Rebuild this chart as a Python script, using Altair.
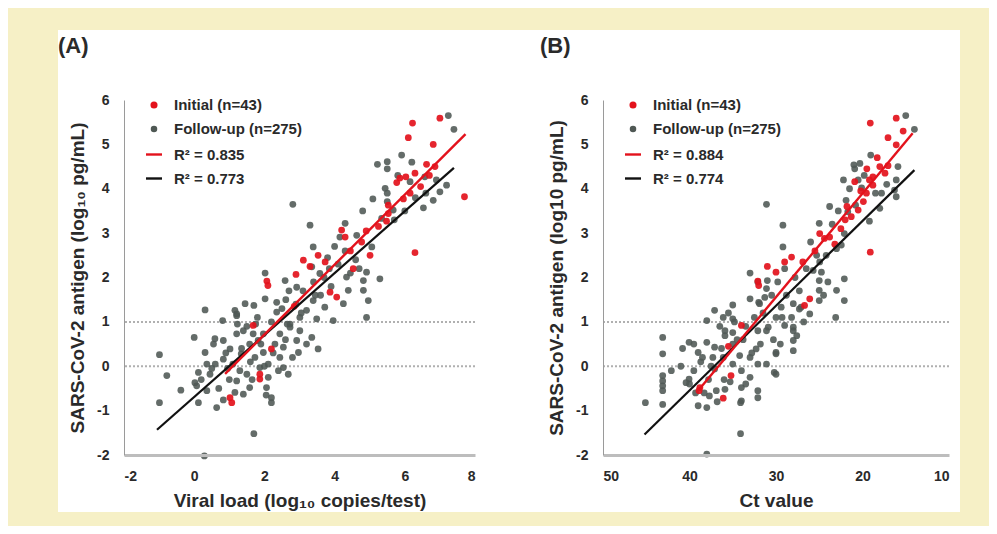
import altair as alt
import pandas as pd

# ---------------- Panel A: viral load vs antigen ----------------
a_init_x = [6.22, 7.00, 6.10, 6.81, 6.62, 6.86, 6.29, 5.86, 6.03, 5.77, 7.70, 5.96, 6.15, 5.53,
            5.48, 4.20, 4.30, 4.77, 6.29, 3.53, 3.11, 3.73, 5.01, 4.53, 2.90, 2.07, 2.10, 1.68,
            3.87, 4.06, 1.02, 1.07, 1.87, 1.87, 2.20, 5.53, 4.90, 5.25, 6.45, 6.70, 3.30, 4.45, 2.85]
a_init_y = [5.48, 5.59, 5.15, 5.00, 4.55, 4.50, 4.35, 4.24, 4.27, 4.14, 3.82, 3.77, 3.90, 3.44,
            3.27, 3.07, 2.91, 2.80, 2.56, 2.50, 2.39, 2.35, 2.50, 2.20, 2.07, 1.92, 1.82, 0.92,
            1.67, 1.56, -0.71, -0.82, -0.18, -0.29, 0.39, 3.63, 3.05, 3.15, 4.05, 4.30, 2.25, 2.60, 1.35]

a_fu_x = [7.24, 7.40, 5.91, 5.22, 5.50, 5.50, 6.15, 6.57, 7.00, 7.19, 5.44, 5.09, 5.50, 6.81,
          6.53, 4.80, 5.67, 5.34, 3.30, 4.30, 4.63, 5.06, 3.39, 3.35, 4.91,
          2.81, 3.58, 4.34, 2.02, 2.59, 2.92, 2.02, 2.35, 2.61, 1.45, 1.70, 1.21, 0.31, 0.81,
          1.23, 1.40, 4.82, 4.39, 4.82, 4.25, 4.96, 3.39, 3.72, 3.20, 3.01, 3.49, 3.96, 4.91,
          2.73, 2.44, 3.01, 3.35, 1.97, 2.35,
          -0.99, -0.99, -0.78, -0.38, 0.00, 0.02, 0.07, 0.12, 0.36, 0.31, 0.55, 0.59, 0.45,
          0.36, 0.12, 0.64, 0.83, 1.16, 1.21, 1.50, 0.83, 1.02, 0.83, 1.21, 1.16, 1.21, 1.34,
          1.58, 1.82, 1.73, 1.97, 1.87, 2.11, 2.11, 2.06, 2.20, 2.20, 1.58, 1.40, 2.44, 2.54,
          2.68, 2.54, 2.97, 2.92, 3.53, 1.70, 0.29, 1.68, 2.73, 5.29, 4.15,
          0.90, 1.10, 1.30, 1.60, 1.90, 2.30, 2.60, 2.20, 2.50, 2.90, 3.10, 3.40, 3.70, 3.90,
          4.10, 4.30, 4.60, 4.70, 4.00, 3.80, 3.60, 2.70, 1.00, 0.70, 0.60, 0.20, 1.50, 1.80,
          2.00, 2.40, 2.80, 3.20, 5.50, 5.80, 6.00, 6.30, 6.60, 5.70, 6.20, 6.90,
          0.95, 1.35, 1.65, 2.25, 2.65, 3.05, 3.45, 3.85, 4.45, 0.50, 1.75, 2.05]
a_fu_y = [5.65, 5.34, 4.76, 4.55, 4.61, 4.45, 4.16, 4.27, 3.93, 4.08, 4.01, 3.77, 3.71, 3.74,
          3.57, 3.50, 3.52, 3.33, 3.18, 3.22, 2.95, 2.69, 2.69, 2.24, 2.12,
          3.65, 2.09, 2.01, 2.10, 1.93, 1.78, 1.52, 1.44, 1.50, 1.41, 1.37, 1.18, 1.27, 1.03,
          0.95, 0.80, 1.93, 1.71, 1.71, 1.41, 1.48, 1.48, 1.33, 1.26, 1.10, 1.07, 1.03, 1.10,
          0.95, 0.73, 0.80, 0.65, 0.73, 1.22,
          0.26, -0.82, -0.21, -0.54, 0.65, -0.37, -0.44, -0.14, 0.05, 0.31, 0.50, 0.62, -0.18,
          -0.55, -0.82, -0.93, -0.76, -0.59, -0.33, -0.18, 0.16, 0.39, 0.58, 0.73, 1.26, 1.14, 0.28,
          0.50, 0.58, 0.20, 0.31, -0.03, 0.05, -0.25, -0.48, -0.71, -0.82, -0.48, -0.63, 0.20, -0.03,
          -0.18, 0.43, 0.31, 0.58, 0.39, -1.52, -2.02, 0.73, 0.88, 1.97, 2.91,
          0.30, 0.05, -0.10, 0.10, 0.50, 0.50, 0.60, 1.00, 1.30, 1.40, 1.70, 1.90, 2.00, 1.80,
          2.30, 2.60, 2.40, 2.20, 2.70, 2.45, 1.60, 1.70, -0.30, -0.50, 0.05, -0.30, 0.90, 1.10,
          0.00, -0.10, 0.20, 0.50, 3.90, 4.30, 3.50, 3.80, 3.90, 3.30, 4.60, 4.20,
          -0.05, 0.40, -0.30, 0.30, 0.95, 1.20, 1.60, 2.20, 2.10, -0.05, 0.95, -0.65]

a_fit_red_x = [0.88, 7.73]
a_fit_red_y = [-0.17, 5.23]
a_fit_blk_x = [-1.06, 7.40]
a_fit_blk_y = [-1.43, 4.47]

# ---------------- Panel B: Ct value vs antigen ----------------
b_init_x = [19.1, 16.1, 17.05, 16.1, 18.0, 17.05, 17.4, 18.8, 19.2, 20.9, 18.8, 19.55, 19.9, 20.5,
            21.3, 24.95, 24.4, 23.8, 19.1, 28.2, 29.0, 26.9, 30.0, 32.1, 32.0, 34.0, 26.1, 26.7,
            38.8, 38.9, 36.1, 35.2, 22.0, 22.5, 21.8, 20.2, 23.2, 19.5, 18.3, 15.3, 25.5, 31.0, 35.5]
b_init_y = [5.48, 5.59, 5.15, 4.99, 4.50, 4.52, 4.35, 4.27, 4.20, 4.16, 4.08, 3.90, 3.71, 3.52,
            3.37, 2.99, 2.88, 2.91, 2.57, 2.46, 2.35, 2.35, 2.12, 1.92, 1.82, 0.92, 1.52, 1.37,
            -0.48, -0.55, -0.72, -0.21, 3.30, 3.10, 3.60, 3.95, 2.75, 4.45, 4.70, 5.30, 2.60, 2.25, 0.45]

b_fu_x = [15.0, 14.0, 19.05, 21.0, 20.3, 20.9, 15.9, 20.1, 16.1, 16.3, 16.1, 21.9, 20.8, 21.7,
          19.2, 18.0, 29.2, 25.0, 22.45, 22.1, 29.2, 29.0, 24.95, 25.7, 23.0,
          31.1, 33.0, 31.0, 31.1, 33.0, 35.0, 32.0, 37.1, 36.1, 35.0, 38.0, 35.9, 35.0, 32.1,
          30.9, 30.0, 29.4, 28.0, 27.3, 28.2, 29.0, 28.0, 27.6, 25.0, 24.0, 23.0, 22.1, 22.1,
          23.1, 25.0, 24.75, 25.3,
          43.1, 43.1, 45.1, 43.1, 43.1, 43.1, 43.1, 43.1, 42.1, 40.05, 39.0, 38.0, 40.05, 40.0,
          39.0, 38.0, 37.7, 36.9, 35.9, 37.1, 36.1, 37.1, 35.9, 35.0, 34.2, 34.0, 34.0, 34.0,
          33.0, 32.3, 33.0, 32.1, 32.1, 32.1, 31.1, 30.0, 30.2, 31.1, 31.9, 34.1, 38.0,
          40.4, 35.0, 34.1, 32.1, 30.0, 30.0, 28.0, 28.0, 28.0, 25.0, 26.1, 27.1,
          36.5, 37.5, 38.5, 39.5, 36.0, 35.5, 34.5, 33.5, 33.5, 32.5, 31.5, 30.5, 29.8, 28.8,
          27.8, 26.5, 26.0, 24.2, 23.5, 22.8, 21.5, 20.5, 19.8, 18.5, 17.8, 17.2, 24.5, 26.8,
          29.5, 31.8, 36.8, 37.8, 38.3, 39.5, 41.0, 40.8, 23.8, 22.2,
          37.3, 36.3, 35.3, 34.8, 33.8, 32.8, 31.3, 30.3, 29.3, 27.3, 39.3, 38.7]
b_fu_y = [5.65, 5.34, 4.76, 4.54, 4.57, 4.45, 4.50, 4.02, 4.20, 3.97, 3.82, 3.74, 3.63, 3.48,
          3.27, 3.56, 3.18, 3.22, 2.73, 2.99, 2.69, 2.20, 2.35, 2.16, 2.65,
          3.65, 2.10, 1.93, 1.75, 1.52, 1.38, 1.44, 1.26, 1.10, 1.07, 1.03, 0.80, 0.76, 0.80,
          0.88, 1.10, 1.33, 1.41, 1.29, 1.10, 0.92, 0.80, 0.69, 1.93, 1.90, 1.71, 1.97, 1.48,
          1.10, 1.71, 2.12, 2.50,
          0.65, 0.28, -0.82, -0.86, -0.21, -0.33, -0.44, -0.55, -0.10, 0.54, 0.31, 0.54, -0.29, -0.40,
          -0.89, -0.93, -0.67, -0.55, -0.52, -0.06, 0.20, 0.43, 0.69, 0.50, 0.24, -0.10, -0.48, -0.78,
          0.20, 0.39, -0.25, 0.05, -0.55, -0.71, 0.05, 0.31, -0.14, 0.80, 1.41, -1.52, -1.98,
          -0.37, 0.05, -0.82, 1.90, 0.28, -0.18, 0.88, 0.58, 0.35, 1.48, 1.18, 1.33,
          0.90, 0.00, 0.20, -0.10, -0.30, 1.20, 0.60, 0.90, -0.40, 1.10, 1.20, 1.60, 1.90, 1.60,
          2.00, 2.20, 2.80, 2.50, 3.20, 3.50, 4.00, 4.20, 4.30, 3.90, 3.90, 4.10, 1.60, 1.00,
          0.50, 0.50, -0.80, -0.30, -0.60, 0.50, 0.00, 0.40, 3.60, 4.20,
          0.20, 0.40, -0.35, 1.00, 0.60, 0.30, 1.55, 0.60, 1.10, 1.70, -0.60, 0.10]

b_fit_red_x = [38.8, 14.2]
b_fit_red_y = [-0.50, 5.25]
b_fit_blk_x = [45.2, 14.0]
b_fit_blk_y = [-1.54, 4.42]

y_ticks = [-2, -1, 0, 1, 2, 3, 4, 5, 6]
a_x_ticks = [-2, 0, 2, 4, 6, 8]
b_x_ticks = [50, 40, 30, 20, 10]
ref_lines = [0, 1]

legend_a = ["Initial (n=43)", "Follow-up (n=275)", "R\u00b2 = 0.835", "R\u00b2 = 0.773"]
legend_b = ["Initial (n=43)", "Follow-up (n=275)", "R\u00b2 = 0.884", "R\u00b2 = 0.774"]

FONT = "Liberation Sans"
RED = "#e3121c"
GRAY = "#4f5854"
BLACK = "#111111"
TXT = "#2a2a2a"
CREAM = "#f6f0c6"
H = 355
one = pd.DataFrame({"k": [0]})


def panel(label, ix, iy, fx, fy, rx, ry, kx, ky, xdom, xrev, xticks, xtitle, ytitle,
          legend, width, rect_l, rect_r):
    xscale = alt.Scale(domain=xdom, reverse=xrev, nice=False, zero=False)
    yscale = alt.Scale(domain=[-2, 6], nice=False, zero=False)
    xaxis = alt.Axis(values=xticks, title=xtitle, grid=False, ticks=False, zindex=1,
                     labelFont=FONT, labelFontSize=14, labelFontWeight="bold", labelColor=TXT,
                     labelPadding=14, labelExpr="'' + datum.value",
                     titleFont=FONT, titleFontSize=19, titleFontWeight="bold", titleColor=TXT,
                     titlePadding=8, domainColor="#bdbdbd", domainWidth=3)
    yaxis = alt.Axis(values=y_ticks, title=ytitle, grid=False, ticks=False, zindex=1,
                     labelFont=FONT, labelFontSize=14, labelFontWeight="bold", labelColor=TXT,
                     labelPadding=15, labelExpr="'' + datum.value",
                     titleFont=FONT, titleFontSize=19, titleFontWeight="bold", titleColor=TXT,
                     titlePadding=9, domainColor="#9a9a9a", domainWidth=1)

    bg = alt.Chart(one).mark_rect(color="white").encode(
        x=alt.value(rect_l), x2=alt.value(rect_r), y=alt.value(-70), y2=alt.value(H + 57))

    refs = alt.Chart(pd.DataFrame({"v": ref_lines})).mark_rule(
        color="#b0b0b0", strokeWidth=2, strokeDash=[2, 2]).encode(
        y=alt.Y("v:Q", scale=yscale, axis=yaxis))

    fu = alt.Chart(pd.DataFrame({"x": fx, "y": fy})).mark_circle(
        size=46, color=GRAY, opacity=0.88).encode(
        x=alt.X("x:Q", scale=xscale, axis=xaxis), y=alt.Y("y:Q", scale=yscale, axis=yaxis))
    ini = alt.Chart(pd.DataFrame({"x": ix, "y": iy})).mark_circle(
        size=46, color=RED, opacity=0.92).encode(
        x=alt.X("x:Q", scale=xscale, axis=xaxis), y=alt.Y("y:Q", scale=yscale, axis=yaxis))

    blk = alt.Chart(pd.DataFrame({"x": kx, "y": ky})).mark_line(
        color=BLACK, strokeWidth=2.2).encode(
        x=alt.X("x:Q", scale=xscale, axis=xaxis), y=alt.Y("y:Q", scale=yscale, axis=yaxis))
    red = alt.Chart(pd.DataFrame({"x": rx, "y": ry})).mark_line(
        color=RED, strokeWidth=2.4).encode(
        x=alt.X("x:Q", scale=xscale, axis=xaxis), y=alt.Y("y:Q", scale=yscale, axis=yaxis))

    tag = alt.Chart(one).mark_text(align="left", baseline="middle", font=FONT, fontSize=22,
                                   fontWeight="bold", color=TXT).encode(
        x=alt.value(rect_l), y=alt.value(-54), text=alt.value(label))

    rows = [5, 29, 54.5, 78.5]
    leg_layers = [
        alt.Chart(one).mark_circle(size=50, color=RED, opacity=1).encode(
            x=alt.value(30), y=alt.value(rows[0])),
        alt.Chart(one).mark_circle(size=42, color=GRAY, opacity=1).encode(
            x=alt.value(30), y=alt.value(rows[1])),
        alt.Chart(one).mark_rule(color=RED, strokeWidth=2.4).encode(
            x=alt.value(22), x2=alt.value(38), y=alt.value(rows[2])),
        alt.Chart(one).mark_rule(color=BLACK, strokeWidth=2.4).encode(
            x=alt.value(22), x2=alt.value(38), y=alt.value(rows[3])),
    ]
    for lab, yy in zip(legend, rows):
        leg_layers.append(alt.Chart(one).mark_text(
            align="left", baseline="middle", font=FONT, fontSize=15, fontWeight="bold",
            color=TXT).encode(x=alt.value(50), y=alt.value(yy), text=alt.value(lab)))

    return alt.layer(bg, refs, fu, ini, blk, red, tag, *leg_layers).properties(
        width=width, height=H)


pa = panel("(A)", a_init_x, a_init_y, a_fu_x, a_fu_y, a_fit_red_x, a_fit_red_y,
           a_fit_blk_x, a_fit_blk_y, [-2, 8], False, a_x_ticks,
           "Viral load (log\u2081\u2080 copies/test)", "SARS-CoV-2 antigen (log\u2081\u2080 pg/mL)",
           legend_a, 351, -66, 416)
pb = panel("(B)", b_init_x, b_init_y, b_fu_x, b_fu_y, b_fit_red_x, b_fit_red_y,
           b_fit_blk_x, b_fit_blk_y, [10, 50], True, b_x_ticks,
           "Ct value", "SARS-CoV-2 antigen (log10 pg/mL)",
           legend_b, 346, -63, 357)

chart = alt.hconcat(pa, pb, spacing=0).properties(
    background=CREAM,
    padding={"left": 50, "top": 22, "right": 29, "bottom": 14},
).configure_view(stroke=None)

chart.save("out.html", embed_options={"renderer": "svg", "actions": False})
